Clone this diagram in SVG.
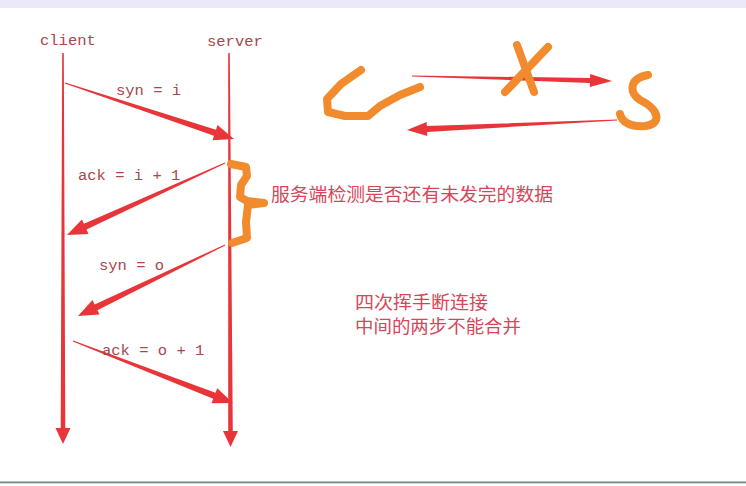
<svg xmlns="http://www.w3.org/2000/svg" width="746" height="486" viewBox="0 0 746 486">
<style>
.lbl{font-family:"Liberation Mono","DejaVu Sans Mono",monospace;font-size:15.5px;fill:#a9464a}
.cn{font-family:"Noto Sans CJK SC","Noto Sans",sans-serif;font-size:18px;fill:#d6465a}
.red{fill:#e8353a}
.ora{fill:none;stroke:#f28a2e;stroke-width:8;stroke-linecap:round;stroke-linejoin:round}
</style>
<rect width="746" height="486" fill="#ffffff"/>
<rect width="746" height="8" fill="#e9e9f9"/>
<rect y="481.5" width="746" height="1.8" fill="#6f8a82"/>

<g id="client">
<text class="lbl" x="40" y="45">client</text>
<polygon class="red" points="62.2,53 63.8,53 65.3,428 70.5,428 63,444 55.5,428 60.7,428"/>
</g>
<g id="server">
<text class="lbl" x="207" y="46">server</text>
<polygon class="red" points="228.2,53 229.8,53 232.8,431 238,431 230.5,447 223,431 228.2,431"/>
</g>

<g id="connectors">
<polygon class="red" points="65.2,82.5 216,129.7 217.5,125.1 234,139 212.5,140.3 214,135.7 64.8,83.5"/>
<polygon class="red" points="224.8,162.5 83.9,223.8 81.9,219.4 67,235 88.5,234 86.5,229.6 225.2,163.5"/>
<polygon class="red" points="224.8,244.5 94.6,304.4 92.5,300.1 78,316 99.5,314.5 97.4,310.2 225.2,245.5"/>
<polygon class="red" points="73.2,340.5 215.5,392.8 217.2,388.3 233,403 211.5,403.2 213.2,398.8 72.8,341.5"/>
<polygon class="red" points="412,75.5 590.1,78 590.2,74 612,81 589.8,87 589.9,83 412,76.5"/>
<polygon class="red" points="617,119.5 426.8,126 426.7,122.1 407,130 427.3,136 427.1,132 617,120.5"/>
</g>

<g id="labels">
<text class="lbl" x="116" y="95">syn = i</text>
<text class="lbl" x="78" y="180">ack = i + 1</text>
<text class="lbl" x="99" y="270">syn = o</text>
<text class="lbl" x="102" y="355">ack = o + 1</text>
</g>

<g id="brace">
<polyline class="ora" points="231,164 246,167 247,176 241,185 240,197 247,201 264,203 248,205 246,222 247,238 232,243"/>
</g>

<g id="sketch">
<polyline class="ora" points="361,70 341,84 327,99 328,112 345,116 368,116 380,106 400,95 420,87"/>
<line class="ora" x1="517" y1="45" x2="534" y2="92"/>
<line class="ora" x1="548" y1="47" x2="505" y2="92"/>
<path class="ora" d="M648,75 C630,78 628,92 640,100 C660,110 662,124 645,126 C630,127 622,122 620,114"/>
</g>

<g id="note1">
<text class="cn" x="271" y="201" textLength="282" lengthAdjust="spacingAndGlyphs">服务端检测是否还有未发完的数据</text>
</g>
<g id="note2">
<text class="cn" x="355" y="309" textLength="133" lengthAdjust="spacingAndGlyphs">四次挥手断连接</text>
<text class="cn" x="355" y="333" textLength="166" lengthAdjust="spacingAndGlyphs">中间的两步不能合并</text>
</g>
</svg>
